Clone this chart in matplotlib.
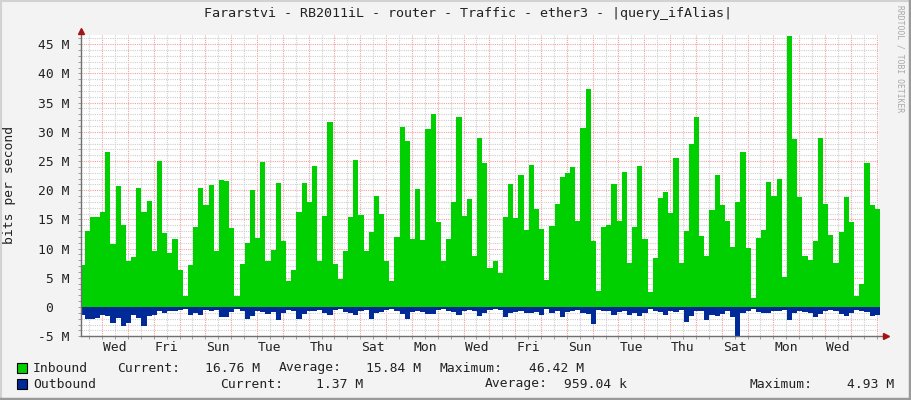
import numpy as np
import matplotlib
matplotlib.use('Agg')
import matplotlib.pyplot as plt
from matplotlib.patches import Rectangle

plt.rcParams['font.family'] = ['DejaVu Sans Mono']

# traffic in Mbit/s, one value per 4.8 h step, oldest first
inbound = [7.2, 13.0, 15.35, 15.35, 16.2, 26.5, 10.8, 20.8, 14.0, 7.9,
           8.6, 20.4, 16.3, 18.1, 9.6, 25.0, 12.7, 9.2, 11.6, 6.3,
           1.9, 7.2, 13.7, 20.4, 17.5, 20.9, 9.6, 21.7, 21.6, 13.5,
           1.9, 7.3, 11.0, 20.0, 11.8, 24.8, 7.9, 9.75, 21.2, 11.3,
           4.5, 6.4, 16.3, 21.2, 18.0, 24.1, 7.8, 15.6, 31.7, 7.4,
           4.85, 9.6, 15.4, 25.2, 15.8, 9.6, 12.8, 19.0, 16.0, 7.8,
           4.5, 12.0, 30.8, 28.4, 11.6, 20.2, 11.5, 30.5, 33.0, 14.5,
           7.9, 11.6, 18.0, 32.5, 15.6, 18.5, 8.7, 28.9, 24.6, 6.7,
           7.9, 5.9, 15.4, 21.0, 15.2, 22.6, 13.2, 24.3, 16.8, 13.3,
           4.7, 13.9, 17.6, 22.2, 22.9, 24.0, 14.7, 30.6, 37.3, 11.3,
           2.7, 13.7, 14.0, 21.0, 14.7, 23.1, 7.6, 13.7, 24.1, 11.6,
           2.6, 8.4, 18.7, 19.7, 16.1, 25.5, 7.6, 13.0, 27.9, 32.5,
           12.2, 8.7, 16.6, 22.6, 17.5, 14.7, 10.3, 18.0, 26.5, 10.1,
           1.6, 11.8, 13.2, 21.4, 19.0, 21.9, 5.1, 46.42, 28.75, 18.8,
           8.7, 8.0, 11.3, 28.9, 17.6, 12.3, 7.5, 12.8, 18.8, 14.5,
           1.9, 3.9, 24.6, 17.5, 16.76]

outbound = [1.4, 2.0, 2.0, 1.8, 1.4, 1.5, 2.7, 1.9, 3.2, 2.7,
            1.4, 1.8, 3.2, 1.6, 1.4, 0.7, 1.0, 0.7, 0.7, 0.5,
            0.4, 1.3, 1.0, 1.4, 0.5, 0.7, 0.5, 1.65, 1.65, 0.85,
            0.4, 0.7, 2.0, 1.5, 0.7, 0.8, 1.2, 0.8, 2.2, 1.0,
            0.5, 0.6, 2.1, 1.2, 0.7, 0.7, 0.5, 1.1, 1.3, 0.5,
            0.4, 0.8, 1.1, 1.3, 0.7, 0.5, 2.0, 1.0, 0.8, 0.5,
            0.4, 0.7, 1.25, 2.1, 0.8, 0.7, 0.8, 1.15, 1.15, 0.5,
            0.4, 0.7, 0.8, 1.4, 0.7, 0.5, 0.7, 1.5, 1.1, 0.5,
            0.4, 0.5, 1.65, 1.1, 0.8, 0.7, 1.0, 1.0, 0.8, 1.3,
            0.4, 1.0, 0.7, 1.65, 0.8, 0.7, 0.5, 1.0, 1.2, 2.85,
            0.5, 0.7, 0.7, 1.3, 0.8, 0.7, 1.3, 1.1, 1.5, 1.1,
            0.4, 0.7, 0.8, 1.4, 0.7, 0.8, 0.5, 2.5, 1.5, 0.7,
            0.7, 2.2, 1.4, 1.5, 1.2, 0.7, 1.65, 4.93, 1.0, 0.7,
            0.4, 0.8, 1.0, 1.0, 0.7, 0.7, 0.5, 2.2, 1.0, 0.7,
            0.8, 1.0, 1.65, 1.2, 0.7, 0.5, 0.7, 1.2, 1.5, 1.0,
            0.5, 0.7, 0.8, 1.5, 1.37]

day_labels = ['Wed', 'Fri', 'Sun', 'Tue', 'Thu', 'Sat', 'Mon', 'Wed',
              'Fri', 'Sun', 'Tue', 'Thu', 'Sat', 'Mon', 'Wed']
ytick_vals = [-5, 0, 5, 10, 15, 20, 25, 30, 35, 40, 45]
ytick_text = ['-5 M', '0  ', '5 M', '10 M', '15 M', '20 M', '25 M',
              '30 M', '35 M', '40 M', '45 M']

title = 'Fararstvi - RB2011iL - router - Traffic - ether3 - |query_ifAlias|'
legend_rows = [
    ('Inbound', '#00CF00', [('Current:', 117), ('16.76 M', 205), ('Average:', 279),
                            ('15.84 M', 366), ('Maximum:', 440), ('46.42 M', 529)]),
    ('Outbound', '#002A97', [('Current:', 220), ('1.37 M', 316), ('Average:', 485),
                             ('959.04 k', 564), ('Maximum:', 750), ('4.93 M', 847)]),
]

# time axis in days, 0 = first Wednesday midnight
t_start = -0.875
step = 0.2
n = len(inbound)
edges = t_start + step * np.arange(n + 1)
inb = np.append(inbound, inbound[-1])
outb = -np.append(outbound, outbound[-1])

W, H = 911, 400
fig = plt.figure(figsize=(W / 100, H / 100), dpi=100, facecolor='#F3F3F3')

def fx(px):
    return px / W

def fy(py):
    return 1 - py / H

ax = fig.add_axes([fx(81), fy(336.2), fx(879 - 81), (336.2 - 34.9) / H])
ax.set_facecolor('white')

ax.fill_between(edges, 0, inb, step='post', color='#00CF00', linewidth=0, zorder=3)
ax.fill_between(edges, 0, outb, step='post', color='#002A97', linewidth=0, zorder=3)

ax.set_xlim(-0.817, 30.09)
ax.set_ylim(-5, 46.6)

# grid: minor every 12 h / 1 M, major every day / 5 M
ax.set_xticks(np.arange(0, 31, 1))
ax.set_xticks(np.arange(-0.5, 30.5, 1), minor=True)
ax.set_yticks(ytick_vals)
ax.set_yticks(np.arange(-5, 47, 1), minor=True)
ax.grid(which='minor', color='#CFCFCF', linestyle=(0, (1, 1)), linewidth=0.8, zorder=1)
ax.grid(which='major', color='#F2A0A0', linestyle=(0, (1, 1)), linewidth=0.8, zorder=2)
ax.set_axisbelow(True)

ax.set_xticklabels([])
ax.set_yticklabels(ytick_text, fontsize=9.4, color='#222222')
ax.tick_params(axis='y', which='both', length=2.5, width=0.6, color='#909090', pad=6.0)
ax.tick_params(axis='x', which='both', length=2.5, width=0.6, color='#909090', pad=2)

# day labels centred at noon, every second day
label_pos = 0.5 + 2 * np.arange(len(day_labels))
for xp, lab in zip(label_pos, day_labels):
    ax.text(xp, -0.017, lab, transform=ax.get_xaxis_transform(), ha='center', va='top',
            fontsize=9.4, color='#222222')

for s in ax.spines.values():
    s.set_visible(False)

# axis lines with arrows (rrdtool style)
ax.plot([0, 0], [0, 1.005], transform=ax.transAxes, color='#707070', lw=1,
        clip_on=False, zorder=5)
ax.plot([0, 1.008], [0, 0], transform=ax.transAxes, color='#707070', lw=1,
        clip_on=False, zorder=5)
ax.plot([0], [1.012], marker='^', markersize=5, color='#A31515', transform=ax.transAxes,
        clip_on=False, zorder=6)
ax.plot([1.009], [0], marker='>', markersize=5, color='#A31515', transform=ax.transAxes,
        clip_on=False, zorder=6)

fig.text(fx(10), fy(185), 'bits per second', rotation=90, ha='center', va='center',
         fontsize=9.4, color='#222222')

fig.text(fx(468), fy(13), title, ha='center', va='center', fontsize=9.6, color='#222222')
fig.text(fx(900), fy(5), 'RRDTOOL / TOBI OETIKER', rotation=-90, ha='center', va='top',
         fontsize=5.8, color='#A8A8A8')

# legend rows
for (name, col, items), yrow in zip(legend_rows, [368, 384]):
    fig.patches.append(Rectangle((fx(17), fy(yrow + 5)), fx(10), 10 / H,
                                 transform=fig.transFigure, facecolor=col,
                                 edgecolor='#000000', linewidth=0.8))
    fig.text(fx(33), fy(yrow), name, ha='left', va='center', fontsize=9.4, color='#222222')
    for txt, xp in items:
        fig.text(fx(xp), fy(yrow), txt, ha='left', va='center', fontsize=9.4, color='#222222')

# frame shading
fig.add_artist(plt.Line2D([0, 1], [fy(0.5), fy(0.5)], transform=fig.transFigure,
                          color='#D2D2D2', lw=1.5))
fig.add_artist(plt.Line2D([fx(0.5), fx(0.5)], [0, 1], transform=fig.transFigure,
                          color='#D2D2D2', lw=1.5))
fig.add_artist(plt.Line2D([0, 1], [fy(398.5), fy(398.5)], transform=fig.transFigure,
                          color='#9A9A9A', lw=2.5))
fig.add_artist(plt.Line2D([fx(909.5), fx(909.5)], [0, 1], transform=fig.transFigure,
                          color='#9A9A9A', lw=2.5))

fig.savefig('out.png', dpi=100, facecolor=fig.get_facecolor())
